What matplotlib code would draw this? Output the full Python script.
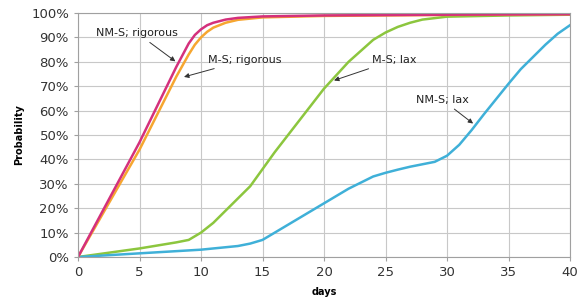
import matplotlib
matplotlib.use('Agg')
import numpy as np
import matplotlib.pyplot as plt
from matplotlib.ticker import FuncFormatter

# days and probability (%)
nms_rig_x = [0, 5, 8, 9, 9.5, 10, 10.5, 11, 12, 13, 15, 20, 30, 40]
nms_rig_y = [0, 47, 78, 87.5, 91, 93.3, 95, 96, 97.3, 98, 98.6, 99, 99.3, 99.5]

ms_rig_x = [0, 5, 8, 9, 9.5, 10, 10.5, 11, 12, 13, 15, 20, 30, 40]
ms_rig_y = [0, 44, 74, 83, 87, 90, 92.3, 94, 96, 97.2, 98.2, 98.8, 99.2, 99.5]

ms_lax_x = [0, 5, 8, 9, 10, 11, 12, 14, 15, 16, 18, 19, 20, 22, 24, 25, 26, 27, 28, 30, 35, 40]
ms_lax_y = [0, 3.5, 6, 7, 10, 14, 19, 29, 36, 43, 56, 62.5, 69, 80, 89, 92, 94.3, 96, 97.3, 98.5, 99, 99.3]

nms_lax_x = [0, 5, 10, 13, 14, 15, 16, 17, 20, 22, 24, 25, 26, 27, 28, 29, 30, 31, 32, 33, 35, 36, 38, 39, 40]
nms_lax_y = [0, 1.5, 3, 4.5, 5.5, 7, 10, 13, 22, 28, 33, 34.5, 35.8, 37, 38, 39, 41.5, 46, 52, 58.5, 71, 77, 87, 91.5, 95]

labels = ['NM-S; rigorous', 'M-S; rigorous', 'M-S; lax', 'NM-S; lax']

fig = plt.figure(figsize=(5.85, 3.01), dpi=100)
ax = fig.add_axes([78/585, 1 - 257/301, (570 - 78)/585, (257 - 13)/301])

ax.plot(ms_lax_x, ms_lax_y, color='#8cc63e', lw=1.8)
ax.plot(nms_lax_x, nms_lax_y, color='#3fb0d8', lw=1.8)
ax.plot(ms_rig_x, ms_rig_y, color='#f6a630', lw=1.8)
ax.plot(nms_rig_x, nms_rig_y, color='#d4307c', lw=1.8)

ax.set_xlim(0, 40)
ax.set_ylim(0, 100)
ax.set_xticks(np.arange(0, 41, 5))
ax.set_yticks(np.arange(0, 101, 10))
ax.yaxis.set_major_formatter(FuncFormatter(lambda v, p: f'{v:.0f}%'))
ax.grid(True, color='#c8c8c8', lw=0.8)
ax.set_axisbelow(True)
for s in ax.spines.values():
    s.set_color('#a0a0a0')
    s.set_linewidth(0.8)
ax.tick_params(colors='#a0a0a0', labelcolor='#333333', labelsize=9.5, length=3)

ax.set_xlabel('days', fontsize=7, fontweight='bold', labelpad=6)
ax.set_ylabel('Probability', fontsize=7, fontweight='bold', labelpad=5)

arrow = dict(arrowstyle='-|>', color='#333333', lw=0.7, mutation_scale=7)
kw = dict(fontsize=8, color='#222222', arrowprops=arrow)
ax.annotate(labels[0], xy=(8.1, 79.5), xytext=(4.8, 91.8), ha='center', va='center', **kw)
ax.annotate(labels[1], xy=(8.4, 73.5), xytext=(10.6, 80.7), ha='left', va='center', **kw)
ax.annotate(labels[2], xy=(20.6, 72), xytext=(23.9, 80.7), ha='left', va='center', **kw)
ax.annotate(labels[3], xy=(32.3, 54), xytext=(29.6, 64.5), ha='center', va='center', **kw)

fig.savefig('out.png', dpi=100)
